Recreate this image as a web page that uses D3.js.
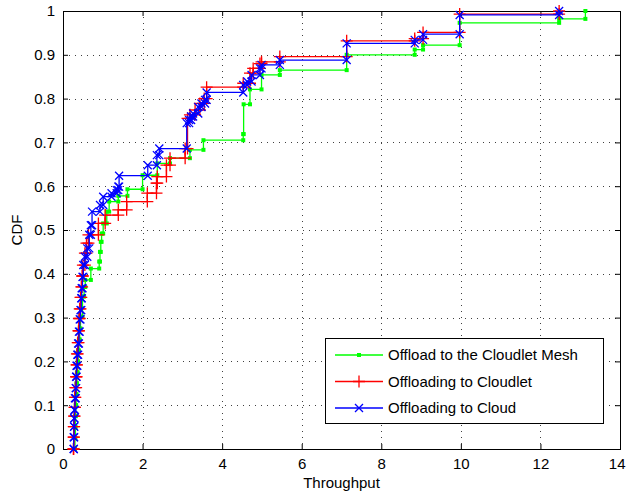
<!DOCTYPE html>
<html>
<head>
<meta charset="utf-8">
<script src="https://cdn.jsdelivr.net/npm/d3@7"></script>
<style>
  html, body { margin: 0; padding: 0; background: #fff; }
  svg { display: block; font-family: "Liberation Sans", Arial, Helvetica, sans-serif; }
</style>
</head>
<body>
<svg id="chart" width="626" height="498"></svg>
<script>
// Empirical CDF of throughput for the three offloading strategies.
// Each pair of arrays lists the sorted throughput samples and the CDF value reached at them.
const meshThroughput = [0.30,0.30,0.31,0.31,0.32,0.33,0.34,0.35,0.37,0.38,0.40,0.42,0.44,0.49,0.53,0.56,0.70,0.91,0.93,0.95,0.97,1.01,1.10,1.16,1.39,1.62,2.00,2.37,2.69,3.19,3.53,4.53,4.54,4.70,4.99,5.45,7.13,8.84,9.05,9.97,12.47,13.13];
const meshCdf        = [0.000,0.025,0.050,0.075,0.100,0.125,0.150,0.175,0.200,0.225,0.250,0.275,0.302,0.348,0.370,0.386,0.412,0.428,0.450,0.473,0.492,0.515,0.542,0.565,0.578,0.593,0.625,0.652,0.664,0.683,0.705,0.719,0.787,0.821,0.854,0.865,0.900,0.912,0.922,0.973,0.982,1.000];

const cloudletThroughput = [0.26,0.27,0.27,0.28,0.29,0.30,0.31,0.33,0.34,0.35,0.37,0.39,0.40,0.42,0.44,0.46,0.48,0.50,0.55,0.59,0.64,0.89,1.06,1.39,1.60,2.12,2.35,2.37,2.60,2.69,3.07,3.13,3.19,3.32,3.44,3.55,3.61,4.53,4.70,4.78,4.95,4.99,5.45,7.13,8.84,9.05,9.97,12.47];
const cloudletCdf        = [0.000,0.027,0.051,0.075,0.095,0.118,0.140,0.165,0.192,0.217,0.243,0.270,0.298,0.320,0.346,0.370,0.395,0.420,0.447,0.470,0.489,0.515,0.534,0.546,0.565,0.584,0.607,0.622,0.648,0.664,0.686,0.755,0.763,0.774,0.789,0.800,0.826,0.835,0.858,0.869,0.880,0.884,0.896,0.932,0.937,0.951,0.993,1.000];

const cloudThroughput = [0.27,0.27,0.28,0.28,0.29,0.30,0.32,0.33,0.34,0.36,0.38,0.40,0.42,0.44,0.46,0.47,0.49,0.51,0.55,0.61,0.66,0.70,0.73,0.93,1.01,1.22,1.35,1.39,1.41,2.13,2.36,2.42,3.11,3.17,3.22,3.27,3.40,3.48,3.57,3.61,4.53,4.63,4.74,4.95,4.99,5.45,7.13,8.84,9.05,9.97,12.47];
const cloudCdf        = [0.000,0.027,0.051,0.070,0.089,0.116,0.139,0.165,0.190,0.215,0.241,0.268,0.296,0.317,0.344,0.367,0.393,0.420,0.439,0.458,0.489,0.511,0.542,0.557,0.576,0.584,0.591,0.599,0.624,0.648,0.671,0.686,0.744,0.751,0.759,0.766,0.781,0.789,0.797,0.814,0.831,0.839,0.854,0.869,0.877,0.888,0.926,0.934,0.947,0.991,1.000];

const seriesNames = ["Offload to the Cloudlet Mesh", "Offloading to Cloudlet", "Offloading to Cloud"];
const xTicks = [0, 2, 4, 6, 8, 10, 12, 14];
const yTicks = [0, 0.1, 0.2, 0.3, 0.4, 0.5, 0.6, 0.7, 0.8, 0.9, 1];
const xLabel = "Throughput";
const yLabel = "CDF";

const series = [
  { name: seriesNames[0], xs: meshThroughput,     ys: meshCdf,     color: "#00ff00", marker: "dot" },
  { name: seriesNames[1], xs: cloudletThroughput, ys: cloudletCdf, color: "#ff0000", marker: "plus" },
  { name: seriesNames[2], xs: cloudThroughput,    ys: cloudCdf,    color: "#0000ff", marker: "cross" }
];

const plot = { left: 63, right: 620, top: 11, bottom: 449 };
const svg = d3.select("#chart");
const fontSize = 15;

const x = d3.scaleLinear().domain([0, 14]).range([plot.left, plot.right]);
const y = d3.scaleLinear().domain([0, 1]).range([plot.bottom, plot.top]);

// Dotted grid
const grid = svg.append("g").attr("stroke", "#000").attr("stroke-opacity", 0.75)
  .attr("stroke-width", 1).attr("stroke-dasharray", "1,5");
grid.selectAll("line.gx").data(xTicks.slice(1, -1)).join("line")
  .attr("x1", d => Math.round(x(d)) + 0.5).attr("x2", d => Math.round(x(d)) + 0.5)
  .attr("y1", plot.top).attr("y2", plot.bottom);
grid.selectAll("line.gy").data(yTicks.slice(1, -1)).join("line")
  .attr("y1", d => Math.round(y(d)) + 0.5).attr("y2", d => Math.round(y(d)) + 0.5)
  .attr("x1", plot.left).attr("x2", plot.right);

// Axes with inward ticks on all four sides, labels on bottom and left
const tickLen = 5;
const axisBottom = d3.axisBottom(x).tickValues(xTicks).tickSize(-tickLen).tickPadding(9).tickFormat(d3.format("d"));
const axisTop = d3.axisTop(x).tickValues(xTicks).tickSize(-tickLen).tickFormat("");
const axisLeft = d3.axisLeft(y).tickValues(yTicks).tickSize(-tickLen).tickPadding(8).tickFormat(d => d === 0 || d === 1 ? d3.format("d")(d) : d3.format(".1f")(d));
const axisRight = d3.axisRight(y).tickValues(yTicks).tickSize(-tickLen).tickFormat("");

function styleAxis(g) {
  g.select(".domain").remove();
  g.selectAll(".tick line").attr("stroke", "#000");
  g.selectAll(".tick text").attr("fill", "#000").attr("font-size", fontSize)
    .attr("font-family", "Liberation Sans, Arial, Helvetica, sans-serif");
}
const gBottom = svg.append("g").attr("transform", `translate(0,${plot.bottom})`).call(axisBottom).call(styleAxis);
// the last label sits at the figure edge; keep it inside the canvas
gBottom.selectAll(".tick text").filter(d => d === xTicks[xTicks.length - 1])
  .attr("text-anchor", "end").attr("x", 626 - plot.right - 1);
svg.append("g").attr("transform", `translate(0,${plot.top})`).call(axisTop).call(styleAxis);
svg.append("g").attr("transform", `translate(${plot.left},0)`).call(axisLeft).call(styleAxis);
svg.append("g").attr("transform", `translate(${plot.right},0)`).call(axisRight).call(styleAxis);

// Axes box
svg.append("rect")
  .attr("x", plot.left + 0.5).attr("y", plot.top + 0.5)
  .attr("width", plot.right - plot.left).attr("height", plot.bottom - plot.top)
  .attr("fill", "none").attr("stroke", "#000").attr("stroke-width", 1);

// Step curves: every corner of the staircase carries a marker
function corners(s) {
  const pts = [[s.xs[0], s.ys[0]]];
  for (let i = 1; i < s.xs.length; i++) {
    pts.push([s.xs[i], s.ys[i - 1]]);
    pts.push([s.xs[i], s.ys[i]]);
  }
  return pts;
}

function drawMarker(g, type, color, cx, cy) {
  if (type === "dot") {
    g.append("rect").attr("x", cx - 2).attr("y", cy - 2).attr("width", 4).attr("height", 4).attr("fill", color);
  } else if (type === "plus") {
    const r = 6;
    g.append("path").attr("d", `M${cx - r},${cy}H${cx + r}M${cx},${cy - r}V${cy + r}`)
      .attr("stroke", color).attr("stroke-width", 1.3).attr("fill", "none");
  } else {
    const r = 4;
    g.append("path").attr("d", `M${cx - r},${cy - r}L${cx + r},${cy + r}M${cx - r},${cy + r}L${cx + r},${cy - r}`)
      .attr("stroke", color).attr("stroke-width", 1.3).attr("fill", "none");
  }
}

const line = d3.line().x(d => x(d[0])).y(d => y(d[1]));
series.forEach(s => {
  const pts = corners(s);
  const g = svg.append("g");
  g.append("path").attr("d", line(pts)).attr("fill", "none")
    .attr("stroke", s.color).attr("stroke-width", 1.3);
  pts.forEach(p => drawMarker(g, s.marker, s.color, x(p[0]), y(p[1])));
});

// Axis titles
svg.append("text").attr("x", (plot.left + plot.right) / 2).attr("y", 488)
  .attr("text-anchor", "middle").attr("font-size", fontSize).attr("fill", "#000").text(xLabel);
svg.append("text").attr("transform", `translate(22,${(plot.top + plot.bottom) / 2}) rotate(-90)`)
  .attr("text-anchor", "middle").attr("font-size", fontSize).attr("fill", "#000").text(yLabel);

// Legend
const legend = { x: 325, y: 338, w: 278, h: 85 };
const lg = svg.append("g");
lg.append("rect").attr("x", legend.x + 0.5).attr("y", legend.y + 0.5)
  .attr("width", legend.w).attr("height", legend.h)
  .attr("fill", "#fff").attr("stroke", "#000").attr("stroke-width", 1);
series.forEach((s, i) => {
  const ly = legend.y + 17 + i * 26.5;
  lg.append("line").attr("x1", legend.x + 10).attr("x2", legend.x + 58)
    .attr("y1", ly).attr("y2", ly).attr("stroke", s.color).attr("stroke-width", 1.3);
  drawMarker(lg, s.marker, s.color, legend.x + 34, ly);
  lg.append("text").attr("x", legend.x + 63).attr("y", ly).attr("dy", "0.35em")
    .attr("font-size", fontSize).attr("fill", "#000").text(s.name);
});
</script>
</body>
</html>
